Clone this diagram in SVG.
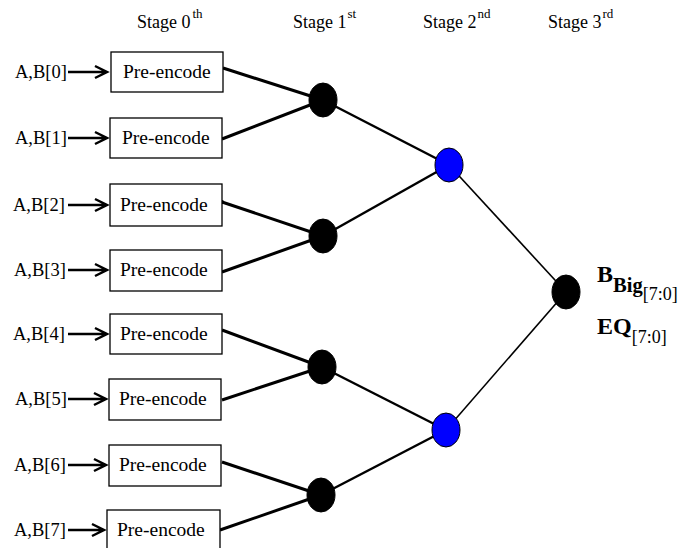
<svg xmlns="http://www.w3.org/2000/svg" width="694" height="548" viewBox="0 0 694 548" font-family="'Liberation Serif', 'DejaVu Serif', serif">
<defs>
<style>
text{font-family:'Liberation Serif','DejaVu Serif',serif;fill:#000}
.stage{font-size:18px}
.sup{font-size:13px}
.in{font-size:18.5px}
.box rect{fill:#fff;stroke:#000;stroke-width:1.3}
.box text{font-size:19.5px}
.arr{stroke:#000;stroke-width:2.5;fill:none;stroke-linejoin:miter}
.c1{stroke:#000;stroke-width:3;fill:none}
.c2{stroke:#000;stroke-width:2.5;fill:none}
.c3{stroke:#000;stroke-width:1.6;fill:none}
.blk{fill:#000;stroke:#000;stroke-width:1}
.blu{fill:#0000ff;stroke:#000;stroke-width:1}
.lb{font-weight:bold}
</style>
</defs>
<rect width="694" height="548" fill="#fff"/>
<g id="stage-labels">
<text class="stage" x="137" y="28">Stage 0<tspan class="sup" dx="2" dy="-10">th</tspan></text>
<text class="stage" x="293" y="28">Stage 1<tspan class="sup" dx="1" dy="-10">st</tspan></text>
<text class="stage" x="423" y="28">Stage 2<tspan class="sup" dx="1" dy="-10">nd</tspan></text>
<text class="stage" x="548" y="28">Stage 3<tspan class="sup" dx="1" dy="-10">rd</tspan></text>
</g>
<g id="connectors">
<path class="c1" d="M223,68 L323,100"/>
<path class="c1" d="M222,139 L323,100"/>
<path class="c1" d="M222,202 L323,236"/>
<path class="c1" d="M222,272 L323,236"/>
<path class="c1" d="M222,330 L322,367"/>
<path class="c1" d="M222,400 L322,367"/>
<path class="c1" d="M222,462 L321,495"/>
<path class="c1" d="M220,530 L321,495"/>
<circle cx="222" cy="202" r="2"/>
<path class="c2" d="M323,100 L449,165"/>
<path class="c2" d="M323,236 L449,165"/>
<path class="c2" d="M322,367 L446,430"/>
<path class="c2" d="M321,495 L446,430"/>
<path class="c3" d="M449,165 L566,292"/>
<path class="c3" d="M446,430 L566,292"/>
</g>
<g id="inputs">
<g id="in0"><text class="in" x="15" y="78">A,B[0]</text><path class="arr" d="M68,72 H107 M95,66 L107,72 L95,78"/></g>
<g id="in1"><text class="in" x="15" y="144">A,B[1]</text><path class="arr" d="M68,138 H107 M95,132 L107,138 L95,144"/></g>
<g id="in2"><text class="in" x="13" y="211">A,B[2]</text><path class="arr" d="M68,205 H107 M95,199 L107,205 L95,211"/></g>
<g id="in3"><text class="in" x="14" y="276">A,B[3]</text><path class="arr" d="M68,270 H107 M95,264 L107,270 L95,276"/></g>
<g id="in4"><text class="in" x="13" y="340">A,B[4]</text><path class="arr" d="M68,334 H107 M95,328 L107,334 L95,340"/></g>
<g id="in5"><text class="in" x="15" y="405">A,B[5]</text><path class="arr" d="M68,399 H106 M94,393 L106,399 L94,405"/></g>
<g id="in6"><text class="in" x="14" y="471">A,B[6]</text><path class="arr" d="M68,465 H106 M94,459 L106,465 L94,471"/></g>
<g id="in7"><text class="in" x="14" y="536">A,B[7]</text><path class="arr" d="M68,530 H104 M92,524 L104,530 L92,536"/></g>
</g>
<g id="box0" class="box"><rect x="111" y="52" width="112" height="40"/><text x="123" y="78">Pre-encode</text></g>
<g id="box1" class="box"><rect x="110" y="118" width="112" height="40"/><text x="122" y="144">Pre-encode</text></g>
<g id="box2" class="box"><rect x="110" y="184" width="112" height="42"/><text x="120" y="211">Pre-encode</text></g>
<g id="box3" class="box"><rect x="110" y="250" width="112" height="41"/><text x="120" y="276">Pre-encode</text></g>
<g id="box4" class="box"><rect x="110" y="314" width="112" height="40"/><text x="120" y="340">Pre-encode</text></g>
<g id="box5" class="box"><rect x="109" y="379" width="112" height="41"/><text x="119" y="405">Pre-encode</text></g>
<g id="box6" class="box"><rect x="109" y="445" width="112" height="41"/><text x="119" y="471">Pre-encode</text></g>
<g id="box7" class="box"><rect x="107" y="510" width="113" height="45"/><text x="117" y="536">Pre-encode</text></g>
<g id="n1a"><ellipse class="blk" cx="323" cy="100" rx="14" ry="17"/></g>
<g id="n1b"><ellipse class="blk" cx="323" cy="236" rx="14" ry="17"/></g>
<g id="n1c"><ellipse class="blk" cx="322" cy="367" rx="14" ry="17"/></g>
<g id="n1d"><ellipse class="blk" cx="321" cy="495" rx="14" ry="17"/></g>
<g id="n2a"><ellipse class="blu" cx="449" cy="165" rx="14" ry="17"/></g>
<g id="n2b"><ellipse class="blu" cx="446" cy="430" rx="14" ry="17"/></g>
<g id="n3"><ellipse class="blk" cx="566" cy="292" rx="14" ry="17"/></g>
<g id="out-labels">
<text class="lb" x="597" y="282" font-size="24">B<tspan font-size="20.5" dy="10">Big</tspan><tspan font-weight="normal" font-size="18" dy="8">[7:0]</tspan></text>
<text class="lb" x="597" y="334" font-size="24">EQ<tspan font-weight="normal" font-size="18" dy="9">[7:0]</tspan></text>
</g>
</svg>
